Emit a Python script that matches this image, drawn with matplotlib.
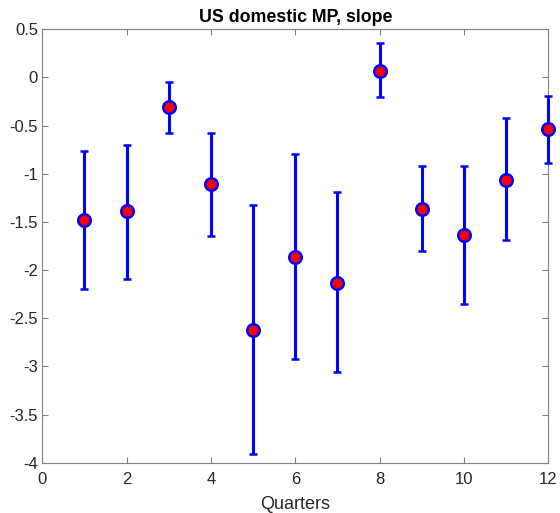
import numpy as np
import matplotlib
matplotlib.use('Agg')
import matplotlib.pyplot as plt

plt.rcParams['font.family'] = ['Liberation Sans', 'DejaVu Sans']

# quarters and estimated slope with lower/upper bands
quarters = [1, 2, 3, 4, 5, 6, 7, 8, 9, 10, 11, 12]
slope = [-1.48, -1.39, -0.31, -1.11, -2.62, -1.86, -2.13, 0.07, -1.37, -1.64, -1.06, -0.54]
upper = [-0.76, -0.70, -0.045, -0.58, -1.32, -0.795, -1.19, 0.356, -0.92, -0.92, -0.42, -0.19]
lower = [-2.20, -2.09, -0.574, -1.65, -3.91, -2.92, -3.06, -0.207, -1.80, -2.35, -1.69, -0.885]

slope = np.array(slope)
yerr = [slope - np.array(lower), np.array(upper) - slope]

fig = plt.figure(figsize=(5.6, 5.13), dpi=100)
ax = fig.add_axes([0.0755, 0.098, 0.9035, 0.845])

cont = ax.errorbar(quarters, slope, yerr=yerr, fmt='o', color='blue', ecolor='blue',
                   elinewidth=2.2, capsize=2.6, capthick=2.2,
                   markersize=9, markerfacecolor='red', markeredgecolor='blue',
                   markeredgewidth=1.8, zorder=4)
for art in cont.get_children():
    art.set_clip_on(False)

ax.set_xlim(0, 12)
ax.set_ylim(-4, 0.5)
ax.set_xticks(np.arange(0, 13, 2))
ax.set_yticks(np.arange(-4, 0.51, 0.5))
ax.set_yticklabels(['-4', '-3.5', '-3', '-2.5', '-2', '-1.5', '-1', '-0.5', '0', '0.5'])

for s in ax.spines.values():
    s.set_color('#808080')
    s.set_linewidth(0.8)
ax.tick_params(direction='in', top=True, right=True, length=4, width=0.8,
               colors='#808080', labelcolor='#262626', labelsize=12)
ax.tick_params(axis='x', pad=7)
ax.tick_params(axis='y', pad=3)

ax.set_title('US domestic MP, slope', fontsize=12.8, fontweight='bold', pad=5)
ax.set_xlabel('Quarters', fontsize=13, color='#262626', labelpad=6)

fig.savefig('out.png', dpi=100)
